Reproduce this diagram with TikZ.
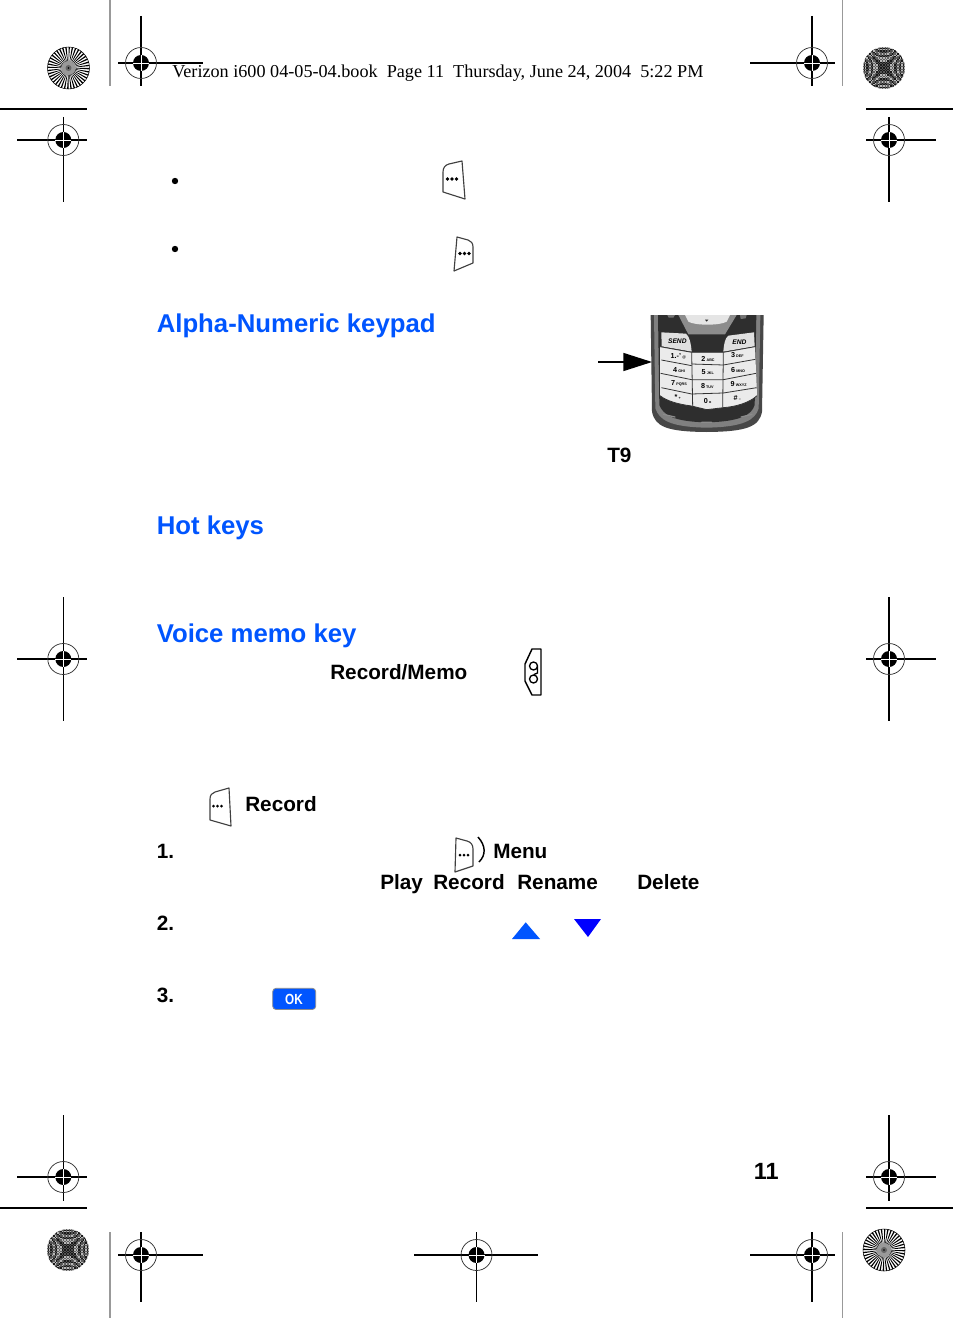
\documentclass[tikz,border=0pt]{standalone}
\usepackage{fontspec}
\setmainfont{Liberation Sans}
\newfontfamily\hdrfont{Liberation Serif}
\usetikzlibrary{arrows.meta,calc}
\definecolor{headblue}{RGB}{0,85,255}
\definecolor{downblue}{RGB}{0,0,255}
\tikzset{
  lbl/.style={anchor=base west,inner sep=0pt,font=\fontsize{15.55}{18}\selectfont\bfseries,text=black},
  headlbl/.style={anchor=base west,inner sep=0pt,font=\fontsize{19.3}{22}\selectfont\bfseries,text=headblue},
  hdr/.style={anchor=base west,inner sep=0pt,font=\hdrfont\fontsize{13.63}{16}\selectfont},
  softkey/.style={draw=black!75,line width=0.85pt,line join=round,fill=white},
  keytxt/.style={inner sep=0pt,text=black},
  keyline/.style={draw=black!80,line width=0.6pt},
  crop/.style={draw=black,line width=0.9pt},
  sideline/.style={draw=black!40,line width=0.9pt}
}
% registration mark: x y left right top bottom
\newcommand{\regmark}[6]{
  \draw[crop] (#3,#2) -- (#4,#2);
  \draw[crop] (#1,#5) -- (#1,#6);
  \draw[draw=black!80,line width=0.55pt] (#1,#2) circle (15.5);
  \fill[black] (#1,#2) circle (8);
  \draw[white,line width=0.7pt] (#1-8,#2) -- (#1+8,#2) (#1,#2-8) -- (#1,#2+8);
}
\newcommand{\burst}[2]{
  \foreach \a in {0,9,...,351}{
    \fill[black] (#1,#2) -- ($(#1,#2)+(\a:21)$) -- ($(#1,#2)+(\a+3.8:21)$) -- cycle;
  }
  \fill[black!40] (#1,#2) circle (7);
  \fill[black!60] (#1,#2) circle (3);
  \fill[black] (#1,#2) circle (0.9);
  \draw[black,line width=0.4pt] (#1,#2) circle (21);
}
\newcommand{\moire}[2]{
  \begin{scope}
    \clip (#1,#2) circle (21);
    \foreach \i in {-15,...,15}{
      \foreach \j in {-15,...,15}{
        \pgfmathsetmacro\vv{cos(5.43*(\i*\i-\j*\j))}
        \pgfmathtruncatemacro\cc{mod(\i+\j+44,2)}
        \pgfmathtruncatemacro\gg{\vv>0 ? (\cc==0 ? 90 : 68) : (\cc==0 ? 62 : 28)}
        \fill[black!\gg] (#1+1.4*\i-0.75,#2+1.4*\j-0.75) rectangle (#1+1.4*\i+0.75,#2+1.4*\j+0.75);
      }
    }
  \end{scope}
}
\newcommand{\pkey}[4]{
  \node[keytxt,font=\fontsize{5.4}{6}\selectfont\bfseries] (#4) at (#1,#2) {#3};
}
\begin{document}
\begin{tikzpicture}[x=0.75pt,y=-0.75pt]
\useasboundingbox (0,0) rectangle (954,1319);
\fill[white] (0,0) rectangle (954,1319);

% trim lines
\draw[sideline] (110,0) -- (110,86);
\draw[sideline] (842.5,0) -- (842.5,86);
\draw[sideline] (110,1232) -- (110,1318);
\draw[sideline] (842.5,1232) -- (842.5,1318);
\draw[crop] (0,109) -- (87,109);
\draw[crop] (866,109) -- (953,109);
\draw[crop] (0,1208) -- (87,1208);
\draw[crop] (866,1208) -- (953,1208);

% registration marks
\regmark{141}{63}{118}{203}{16}{86}
\regmark{812}{63}{750}{835}{16}{86}
\regmark{63.3}{140}{17}{87}{117}{202}
\regmark{889}{140}{866}{936}{117}{202}
\regmark{63.3}{659}{17}{87}{597}{721}
\regmark{889}{659}{866}{936}{597}{721}
\regmark{63.3}{1177}{17}{87}{1115}{1201}
\regmark{889}{1177}{866}{936}{1115}{1201}
\regmark{141}{1255}{118}{203}{1232}{1302}
\regmark{476.5}{1255}{414}{538}{1232}{1302}
\regmark{812}{1255}{750}{835}{1232}{1302}

\burst{68.5}{68}
\burst{884}{1250}
\moire{884}{68}
\moire{68}{1250}

% header
\node[hdr] (header) at (172,78) {Verizon i600 04-05-04.book\ \ Page 11\ \ Thursday, June 24, 2004\ \ 5:22 PM};

% bullets
\fill[black] (175,181) circle (3.2);
\fill[black] (175,249) circle (3.2);

% soft key icons
\draw[softkey] (443,192) -- (443,172) .. controls (443,168) and (445,165) .. (449,164) -- (462,161) -- (465,199) -- cycle;
\foreach \x in {447.5,452,456.5} \fill[black] (\x,179) circle (1.8);
\draw[softkey] (457,237) -- (468,240) .. controls (471,241) and (473,243) .. (473,247) -- (473,263) -- (454,271) -- cycle;
\foreach \x in {460,464.5,469} \fill[black] (\x,253.5) circle (1.8);
\draw[softkey] (210,820) -- (210,799) .. controls (210,795) and (212,793) .. (215,792) -- (229,788) -- (231,826) -- cycle;
\foreach \x in {213.5,217.5,221.5} \fill[black] (\x,806) circle (1.5);
\draw[softkey] (456,838) -- (467,841) .. controls (471,842) and (473,845) .. (473,849) -- (473,866) -- (455,872) -- cycle;
\foreach \x in {460,464,468} \fill[black] (\x,855) circle (1.5);
\draw[black,line width=1.1pt] (478,837) .. controls (486,846) and (486,855) .. (479,862);

% voice memo key
\draw[black,line width=1.1pt,line join=round,fill=white] (532,649) -- (541,649) -- (541,695) -- (532,695) -- (525,681) -- (525,664) -- cycle;
\draw[black,line width=1pt] (533.5,666) circle (4) (533.5,679) circle (4) (537.5,666) -- (537.5,673) -- (534,674.5);

% headings
\node[headlbl] (alpha) at (156.5,332) {Alpha-Numeric keypad};
\node[headlbl] (hot) at (156.5,534) {Hot keys};
\node[headlbl] (voice) at (156.5,642) {Voice memo key};

% phone
\begin{scope}[shift={(580,305)},x=0.25pt,y=-0.25pt]
  \fill[black!72] (212,30) -- (216,320) .. controls (225,365) and (260,380) .. (380,381) .. controls (500,380) and (538,365) .. (546,320) -- (551,30) -- cycle;
  \fill[black!50] (222,30) -- (226,310) .. controls (238,345) and (270,366) .. (380,368) .. controls (490,366) and (526,345) .. (536,310) -- (541,30) -- cycle;
  \fill[black!82] (234,30) -- (238,300) .. controls (250,330) and (280,350) .. (380,352) .. controls (480,350) and (515,330) .. (524,300) -- (529,30) -- cycle;
  \fill[black!45] (295,30) -- (325,88) -- (435,88) -- (470,30) -- cycle;
  \fill[black!10] (315,30) -- (450,30) -- (440,50) .. controls (420,62) and (345,62) .. (325,50) -- cycle;
  \fill[black!85] (375,44) -- (385,44) -- (380,50) -- cycle;
  \fill[black!55] (262,30) -- (285,30) -- (280,38) -- (266,38) -- cycle;
  \fill[black!55] (480,30) -- (500,30) -- (497,40) -- (482,42) -- cycle;
  % send / end
  \fill[black!12] (244,82) -- (318,86) .. controls (328,95) and (332,110) .. (335,140) -- (245,124) -- cycle;
  \fill[black!12] (522,82) -- (445,92) .. controls (435,100) and (432,115) .. (430,140) -- (524,124) -- cycle;
  \node[keytxt,font=\fontsize{5}{6}\selectfont\bfseries\itshape] (sendk) at (292,109) {SEND};
  \node[keytxt,font=\fontsize{5}{6}\selectfont\bfseries\itshape] (endk) at (478,113) {END};
  % keypad
  \fill[black!8] (240,125) -- (335,142) -- (430,142) -- (525,125) -- (531,272) .. controls (510,292) and (470,305) .. (430,308) -- (380,314) -- (335,303) .. controls (295,298) and (260,288) .. (240,272) -- cycle;
  \draw[keyline] (240,125) -- (335,142) -- (430,142) -- (525,125);
  \draw[keyline] (335,142) -- (338,303) (430,142) -- (428,308);
  \draw[keyline] (244,165) -- (335,182) (335,177) -- (430,180) (430,180) -- (526,163);
  \draw[keyline] (242,205) -- (335,224) (335,224) -- (430,224) (430,224) -- (528,205);
  \draw[keyline] (244,248) -- (335,267) (335,267) -- (430,264) (430,264) -- (530,248);
  \draw[keyline] (240,272) .. controls (260,288) and (295,298) .. (335,303) -- (380,314) -- (430,308) .. controls (470,305) and (510,292) .. (531,272);
  \pkey{295}{153}{1.-'\,\fontsize{2.8}{3}\selectfont @}{k1}
  \pkey{384}{161}{2\,\fontsize{2.8}{3}\selectfont ABC}{k2}
  \pkey{472}{151}{3\,\fontsize{2.8}{3}\selectfont DEF}{k3}
  \pkey{297}{195}{4\,\fontsize{2.8}{3}\selectfont GHI}{k4}
  \pkey{383}{201}{5\,\fontsize{2.8}{3}\selectfont JKL}{k5}
  \pkey{474}{194}{6\,\fontsize{2.8}{3}\selectfont MNO}{k6}
  \pkey{297}{235}{7\,\fontsize{2.8}{3}\selectfont PQRS}{k7}
  \pkey{382}{243}{8\,\fontsize{2.8}{3}\selectfont TUV}{k8}
  \pkey{476}{236}{9\,\fontsize{2.8}{3}\selectfont WXYZ}{k9}
  \pkey{293}{277}{*\,\fontsize{2.8}{3}\selectfont +}{kstar}
  \pkey{383}{287}{0\,\fontsize{2.8}{3}\selectfont o}{k0}
  \pkey{472}{279}{\#\,\fontsize{2.8}{3}\selectfont --}{khash}
  % slots
  \draw[black!45,line width=0.9pt,line cap=round] (250,328) -- (285,336) (483,336) -- (516,328) (365,352) -- (395,352);
\end{scope}

% arrow to keypad
\coordinate (arrowstart) at (598,362);
\coordinate (arrowtip) at (652,362);
\draw[black,line width=1.1pt,-{Triangle[length=21.5pt,width=13.5pt]}] (arrowstart) -- (arrowtip);

% labels
\node[lbl] (t9) at (607,462) {T9};
\node[lbl] (recmemo) at (330,679) {Record/Memo};
\node[lbl] (record) at (245,811) {Record};
\node[lbl] (n1) at (156.5,858) {1.};
\node[lbl] (menu) at (493,858) {Menu};
\node[lbl] (play) at (380,889) {Play};
\node[lbl] (record2) at (433,889) {Record};
\node[lbl] (rename) at (517,889) {Rename};
\node[lbl] (delete) at (637,889) {Delete};
\node[lbl] (n2) at (156.5,930) {2.};
\node[lbl] (n3) at (156.5,1002) {3.};
\node[lbl,font=\fontsize{17.6}{20}\selectfont\bfseries] (page) at (753.5,1179) {11};

% arrows
\fill[headblue] (512,939) -- (525.7,922.3) -- (540,939) -- cycle;
\fill[downblue] (574,919) -- (601,919) -- (588,937) -- cycle;

% OK button
\draw[draw=black!45,line width=0.6pt,fill=headblue,rounded corners=2.5pt] (272.7,988.3) rectangle (315.7,1009.5);
\node[inner sep=0pt,text=white,font=\fontsize{11}{12}\selectfont\bfseries,xscale=0.8] (ok) at (294,999) {OK};
\end{tikzpicture}
\end{document}
